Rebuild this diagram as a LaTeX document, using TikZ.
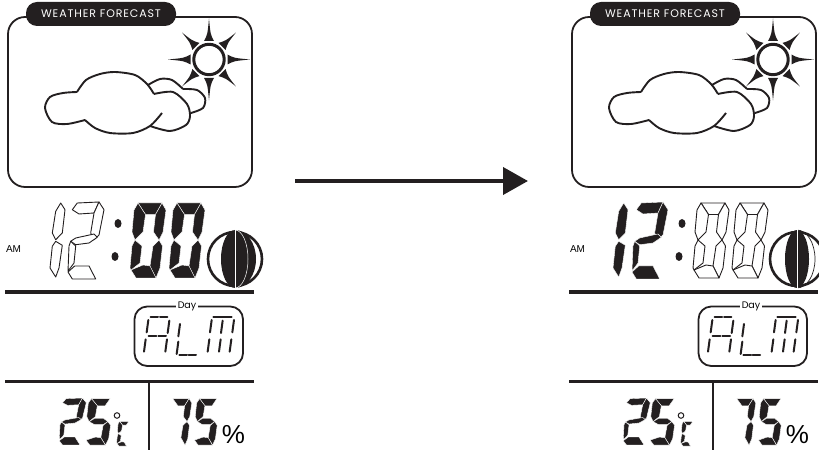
\documentclass[tikz,border=0pt]{standalone}
\usepackage{fontspec}
\setmainfont{Poppins}
\newfontfamily\titlefont[LetterSpace=8]{Poppins}
\newfontfamily\amfont{Liberation Sans}
\usetikzlibrary{arrows.meta}
\definecolor{lcddark}{HTML}{231F20}

% One digit of the display, placed at its top left corner.
\newcommand{\lcddigit}[5][]{%
    \begin{scope}[shift={(#3,#4)},#1]
        \foreach \s in {#5} {\path[#2,seg\s];}
    \end{scope}%
}

\tikzset{
    lcdon/.style={fill=lcddark,draw=white,line width=0.4pt},
    lcdoff/.style={fill=white,draw=lcddark,line width=0.9pt,line join=round},
    % Plain digit segments.
    sega/.style={insert path={(7,1)--(31,1)--(24.5,12.5)--(14.5,12.5)--cycle}},
    segb/.style={insert path={(31,1)--(35,8)--(32,30)--(28,38)--(22.5,30)--(24.5,12.5)--cycle}},
    segc/.style={insert path={(28,38)--(31.5,44)--(29,66)--(25,76)--(19,64)--(22,44)--cycle}},
    segd/.style={insert path={(0,68)--(12,63)--(19,64)--(25,76)--(5,76)--cycle}},
    sege/.style={insert path={(4,38)--(11,44)--(9,61)--(0,68)--(-1,66)--(1,44)--cycle}},
    segf/.style={insert path={(7,1)--(14.5,12.5)--(12,30)--(4,38)--(1,30)--(3,8)--cycle}},
    segg/.style={insert path={(4,38)--(11,33)--(22.5,33)--(28,38)--(22,43)--(11,43)--cycle}},
    % The one.
    segh/.style={insert path={(10.7,1)--(15,7.7)--(12.3,31)--(5.7,37.7)--(2.3,31)--(5.7,9.3)--cycle}},
    segi/.style={insert path={(5.7,39.3)--(12.3,43.3)--(9,66)--(5.7,75)--(0,66)--(2.3,44.3)--cycle}},
    % The two.
    segj/.style={insert path={(3.3,7.7)--(8.3,1)--(30,0)--(25,11)--(10,12)--cycle}},
    segk/.style={insert path={(30,0)--(35,7.7)--(30,33)--(25,37.7)--(21.7,31)--(25,11)--cycle}},
    segl/.style={insert path={(6.7,36)--(25,32)--(28.3,35.3)--(20,41)--(6.7,42.7)--(1.7,39.3)--cycle}},
    segm/.style={insert path={(1.7,39.3)--(6.7,44)--(5,61)--(-1,69)--(0,44)--cycle}},
    segn/.style={insert path={(-1,70)--(5.7,64)--(20,64)--(26.7,77)--(3.3,77)--cycle}},
    almseg/.style={line width=2pt,line cap=round,draw=lcddark},
    cloudline/.style={line width=1.9pt,draw=lcddark,line join=round},
    rule/.style={draw=lcddark},
    panel/.pic={
        % Forecast window.
        \draw[lcddark,line width=1.8pt,rounded corners=6mm] (8,17) rectangle (252,187);
        \node[fill=lcddark,text=white,rounded corners=11pt,minimum width=150pt,minimum height=24pt,inner sep=0pt,
            font=\titlefont\fontsize{11}{11}\selectfont] (title) at (101,14) {WEATHER FORECAST};
        % Sun.
        \draw[lcddark,line width=3pt] (209,59.5) circle[radius=15.2];
        \foreach \a/\l/\w in {0/41/5,90/41/5,180/41/5,270/41/5,45/38/5,135/38/5,225/38/5,315/38/5} {
            \begin{scope}[shift={(209,59.5)},rotate=\a]
                \fill[lcddark] (\l,0) .. controls (25,1.5) .. (18.5,\w) -- (18.5,-\w) .. controls (25,-1.5) .. (\l,0);
            \end{scope}
        }
        % Clouds.
        \draw[cloudline] plot[smooth] coordinates {(148,85) (160,79) (172,80) (183,89)};
        \draw[cloudline] plot[smooth] coordinates {(183,89) (197,90) (205,98) (203,108) (191,113)};
        \draw[cloudline] plot[smooth] coordinates {(77,92) (86,80) (100,74) (115,72) (135,75) (147,84) (154,94)};
        \draw[cloudline] plot[smooth] coordinates {(154,94) (173,92) (187,104) (190,116) (186,125) (170,131) (150,126)};
        \draw[cloudline] plot[smooth] coordinates {(162,113) (150,126) (133,133) (110,133) (95,128) (85,120)};
        \draw[cloudline] plot[smooth] coordinates {(85,120) (67,124) (52,122) (45,108) (50,97) (63,93) (77,92)};
        % Display.
        \node[font=\amfont\fontsize{10}{10}\selectfont,inner sep=0pt] (am) at (13.5,249) {AM};
        \fill[lcddark] (118,223.5) ellipse[x radius=3.5,y radius=4.5];
        \fill[lcddark] (115,256.5) ellipse[x radius=3.5,y radius=4.5];
        \draw[rule,line width=4pt] (5,292)--(254,292);
        \draw[rule,line width=3pt] (5,381.5)--(254,381.5);
        \draw[rule,line width=2.8pt] (149,383)--(149,450);
        % Alarm box.
        \draw[lcddark,line width=1.8pt,rounded corners=4.5mm] (134.5,306.5) rectangle (243,366);
        \node[fill=white,font=\fontsize{9.5}{9.5}\selectfont,inner sep=2pt] (day) at (187,306) {Day};
        \begin{scope}[shift={(130,300)},scale=1/3]
            \foreach \p/\q in {55/60,47/118,118/62,111/118,150/72,145/125,245/60,238/118,278/62,272/118,312/60,304/118} {
                \draw[almseg] (\p,\q)--(\p-5,\q+37);
            }
            \foreach \p/\q/\r in {62/52/84,90/52/112,56/108/79,85/108/108,148/165/171,176/165/198,250/50/305} {
                \draw[almseg] (\p,\q)--(\r,\q);
            }
        \end{scope}
        % Temperature and humidity.
        \lcddigit[xscale=0.75,yscale=0.61]{lcdon}{60}{398}{j,k,l,m,n}
        \lcddigit[xscale=0.78,yscale=0.62]{lcdon}{86}{398}{a,f,g,c,d}
        \lcddigit[xscale=0.68,yscale=0.62]{lcdon}{168}{398}{a,b,c}
        \lcddigit[xscale=0.72,yscale=0.62]{lcdon}{194.5}{398}{a,f,g,c,d}
        \lcddigit[xscale=0.38,yscale=0.33]{lcdon}{117}{421}{a,f,e,d}
        \draw[lcddark,line width=1pt] (117,415.5) circle[radius=2.8];
        \node[font=\amfont\fontsize{26}{26}\selectfont,inner sep=0pt] (percent) at (233.5,435) {\%};
    },
}

\begin{document}
\begin{tikzpicture}[x=1pt,y=-1pt]
    \useasboundingbox (0,0) rectangle (819,454);

    \pic (before) at (0,0) {panel};
    \pic (after) at (564,0) {panel};

    % Arrow between the two displays.
    \coordinate (arrowstart) at (295,181);
    \coordinate (arrowend) at (528,181);
    \draw[-{Triangle[length=25pt,width=27pt]},line width=4pt,lcddark] (arrowstart) -- (arrowend);

    % Left display, minutes on.
    \lcddigit{lcdoff}{50}{202}{h,i}
    \lcddigit{lcdoff}{69}{202}{j,k,l,m,n}
    \lcddigit{lcdon}{131}{202}{a,b,c,d,e,f}
    \lcddigit{lcdon}{170}{202}{a,b,c,d,e,f}

    % Right display, hours on.
    \lcddigit{lcdon}{613}{202}{h,i}
    \lcddigit{lcdon}{633}{202}{j,k,l,m,n}
    \lcddigit{lcdoff}{694}{202}{a,b,c,d,e,f}
    \lcddigit{lcdoff}{733}{202}{a,b,c,d,e,f}

    % Left moon.
    \draw[lcddark,line width=2.6pt] (235,259) circle[radius=27];
    \fill[lcddark] (235,230) arc[start angle=-90,end angle=90,x radius=21,y radius=29]
        arc[start angle=90,end angle=270,x radius=14,y radius=29];
    \draw[white,line width=0.5pt] (235,230) arc[start angle=-90,end angle=90,x radius=13,y radius=29];
    \draw[white,line width=0.6pt] (235,229)--(235,289);

    % Right moon.
    \draw[lcddark,line width=2.6pt] (797,259) circle[radius=27];
    \fill[lcddark] (797,230) arc[start angle=-90,end angle=90,x radius=12,y radius=29]
        arc[start angle=90,end angle=270,x radius=12,y radius=29];
    \draw[lcddark,line width=0.7pt] (797,230) arc[start angle=-90,end angle=90,x radius=18,y radius=29];
    \draw[white,line width=0.6pt] (797,229)--(797,289);
\end{tikzpicture}
\end{document}
